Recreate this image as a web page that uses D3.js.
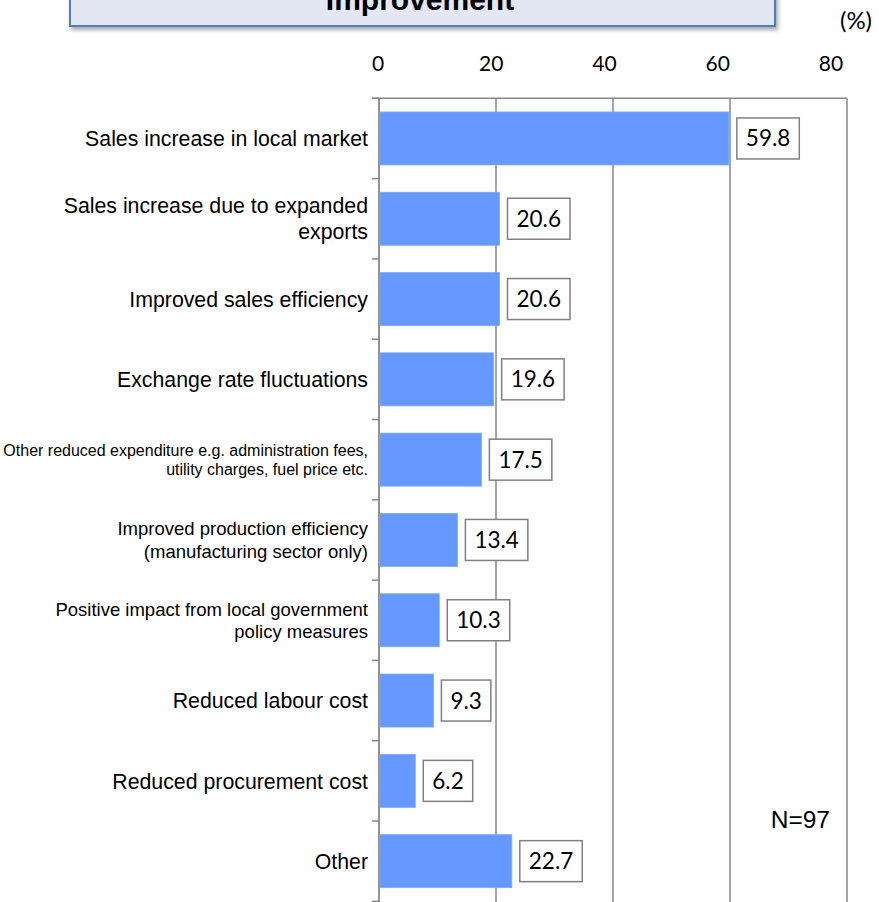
<!DOCTYPE html>
<html>
<head>
<meta charset="utf-8">
<script src="https://cdn.jsdelivr.net/npm/d3@7"></script>
<style>
  html, body { margin: 0; padding: 0; background: #fff; }
  svg { display: block; }
</style>
</head>
<body>
<div id="chart"></div>
<script>
// Reasons for improvement in operating profit (%), N=97
const categories = [
  "Sales increase in local market",
  "Sales increase due to expanded\nexports",
  "Improved sales efficiency",
  "Exchange rate fluctuations",
  "Other reduced expenditure e.g. administration fees,\nutility charges, fuel price etc.",
  "Improved production efficiency\n(manufacturing sector only)",
  "Positive impact from local government\npolicy measures",
  "Reduced labour cost",
  "Reduced procurement cost",
  "Other"
];
const values = [59.8, 20.6, 20.6, 19.6, 17.5, 13.4, 10.3, 9.3, 6.2, 22.7];
const tickValues = [0, 20, 40, 60, 80];
const titleText = "Improvement";
const unitText = "(%)";
const sampleText = "N=97";

// Layout
const W = 879, H = 902;
const plotLeft = 379, plotRight = 847, plotTop = 98.3, plotBottom = 901.3;
const labelFontSize = {
  "Other reduced expenditure e.g. administration fees,\nutility charges, fuel price etc.": 16,
  "Improved production efficiency\n(manufacturing sector only)": 18.5,
  "Positive impact from local government\npolicy measures": 18.5
};
const defaultLabelSize = 21.3;

const svg = d3.select("#chart").append("svg")
  .attr("width", W).attr("height", H);

const defs = svg.append("defs");
const shadow = defs.append("filter").attr("id", "titleShadow")
  .attr("x", "-5%").attr("y", "-50%").attr("width", "110%").attr("height", "200%");
shadow.append("feDropShadow")
  .attr("dx", 2).attr("dy", 3).attr("stdDeviation", 2)
  .attr("flood-color", "#000").attr("flood-opacity", 0.35);

const x = d3.scaleLinear().domain([0, 80]).range([plotLeft, plotRight]);
// tick labels sit on a slightly tighter spacing than the gridlines
const tickLabelX = d3.scaleLinear().domain([0, 80]).range([378, 831]);
const y = d3.scaleBand().domain(categories)
  .range([plotTop, plotBottom]).paddingInner(0.34).paddingOuter(0.17);

const gridColor = "#878787";

// Title box (top runs past the page edge)
svg.append("rect")
  .attr("x", 70).attr("y", -30).attr("width", 705).attr("height", 56)
  .attr("fill", "#e3e7f3").attr("stroke", "#4f7fbf").attr("stroke-width", 2)
  .attr("filter", "url(#titleShadow)");
svg.append("text")
  .attr("x", 420).attr("y", 10)
  .attr("text-anchor", "middle")
  .attr("font-family", "'Liberation Sans', Arial, sans-serif")
  .attr("font-weight", "bold").attr("font-size", 30)
  .attr("fill", "#000")
  .text(titleText);

// Unit label
svg.append("text")
  .attr("x", 856).attr("y", 29)
  .attr("text-anchor", "middle")
  .attr("font-family", "Lato, 'Open Sans', sans-serif")
  .attr("font-size", 24).attr("fill", "#000")
  .text(unitText);

// Top axis labels
svg.append("g").selectAll("text").data(tickValues).join("text")
  .attr("x", d => tickLabelX(d)).attr("y", 71)
  .attr("text-anchor", "middle")
  .attr("font-family", "Lato, 'Open Sans', sans-serif")
  .attr("font-size", 21).attr("fill", "#000")
  .text(d => d);

// Vertical gridlines
svg.append("g").selectAll("line").data(tickValues.filter(d => d > 0)).join("line")
  .attr("x1", d => x(d)).attr("x2", d => x(d))
  .attr("y1", plotTop).attr("y2", H + 10)
  .attr("stroke", gridColor).attr("stroke-width", 1.5);

// Top border line
svg.append("line")
  .attr("x1", plotLeft - 7).attr("x2", plotRight)
  .attr("y1", plotTop).attr("y2", plotTop)
  .attr("stroke", gridColor).attr("stroke-width", 1.5);

// Category axis with tick marks between bands
svg.append("line")
  .attr("x1", plotLeft).attr("x2", plotLeft)
  .attr("y1", plotTop).attr("y2", H + 10)
  .attr("stroke", gridColor).attr("stroke-width", 1.8);
svg.append("g").selectAll("line").data(d3.range(categories.length + 1)).join("line")
  .attr("x1", plotLeft - 7).attr("x2", plotLeft)
  .attr("y1", i => plotTop + i * y.step()).attr("y2", i => plotTop + i * y.step())
  .attr("stroke", gridColor).attr("stroke-width", 1.5);

// Bars
svg.append("g").selectAll("rect").data(categories).join("rect")
  .attr("x", x(0) + 1)
  .attr("y", d => y(d))
  .attr("width", (d, i) => x(values[i]) - x(0) - 1)
  .attr("height", y.bandwidth())
  .attr("fill", "#6699ff")
  .attr("stroke", "#7aa6ff").attr("stroke-width", 0.8);

// Category labels
const labelG = svg.append("g")
  .attr("font-family", "'Liberation Sans', Arial, sans-serif")
  .attr("fill", "#000");
categories.forEach(cat => {
  const lines = cat.split("\n");
  const fs = labelFontSize[cat] || defaultLabelSize;
  const lh = fs * 1.22;
  const cy = y(cat) + y.bandwidth() / 2;
  const t = labelG.append("text")
    .attr("text-anchor", "end")
    .attr("font-size", fs);
  lines.forEach((ln, j) => {
    t.append("tspan")
      .attr("x", 368)
      .attr("y", cy - (lines.length - 1) * lh / 2 + j * lh + fs * 0.36)
      .text(ln);
  });
});

// Value labels in boxes
const valG = svg.append("g");
categories.forEach((cat, i) => {
  const cy = y(cat) + y.bandwidth() / 2;
  const g = valG.append("g");
  const txt = g.append("text")
    .attr("font-family", "Lato, 'Open Sans', sans-serif")
    .attr("font-size", 22.5).attr("fill", "#000")
    .attr("text-anchor", "start")
    .attr("y", cy + 8)
    .text(values[i].toFixed(1));
  const bx = x(values[i]) + 8;
  const tw = txt.node().getComputedTextLength();
  const pad = 9;
  g.insert("rect", "text")
    .attr("x", bx).attr("y", cy - 20.5)
    .attr("width", tw + pad * 2).attr("height", 41)
    .attr("fill", "#fff").attr("stroke", "#808080").attr("stroke-width", 1.5);
  txt.attr("x", bx + pad);
});

// Sample size note
svg.append("text")
  .attr("x", 830).attr("y", 828)
  .attr("text-anchor", "end")
  .attr("font-family", "'Liberation Sans', Arial, sans-serif")
  .attr("font-size", 24.5).attr("fill", "#000")
  .text(sampleText);
</script>
</body>
</html>
